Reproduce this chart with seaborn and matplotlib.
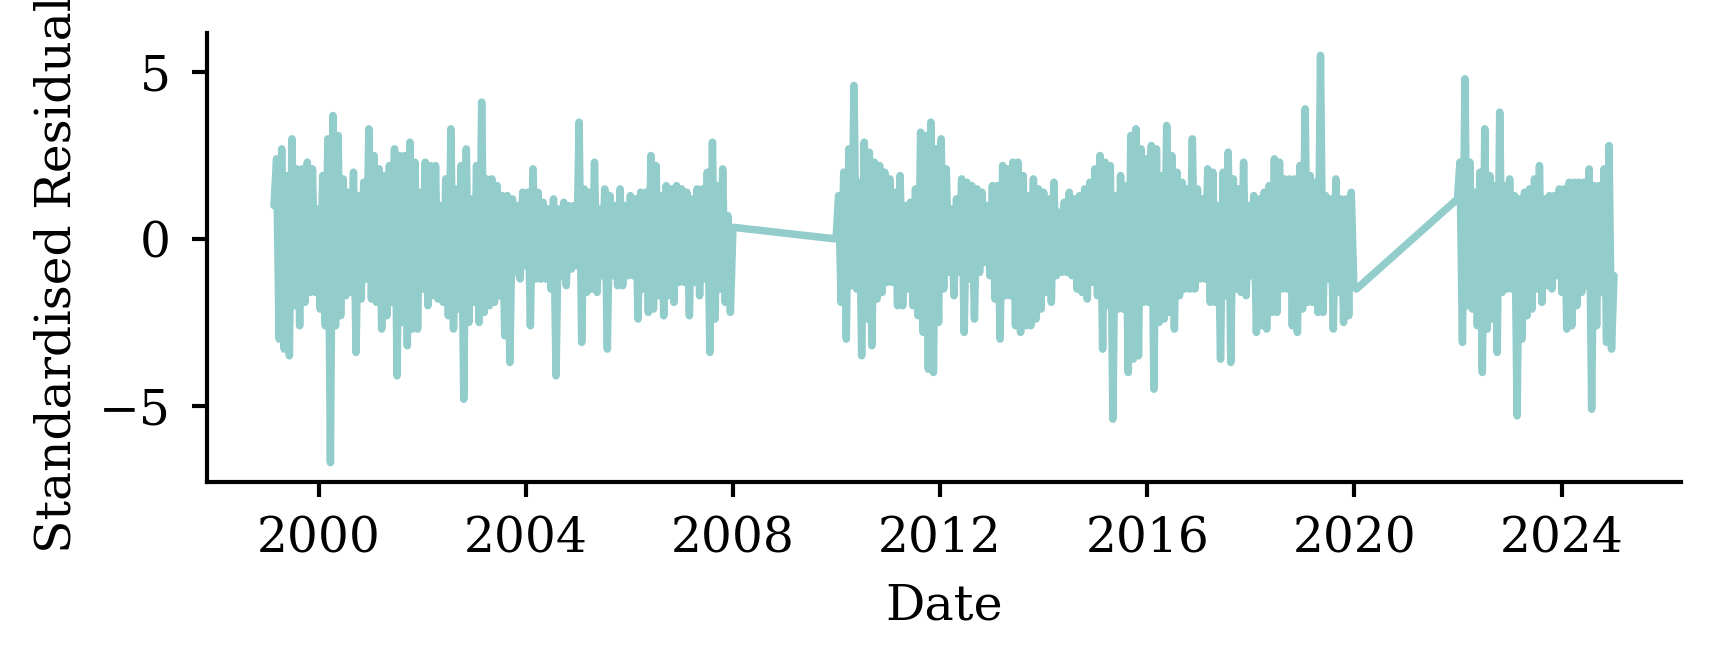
import matplotlib
matplotlib.use('Agg')
import matplotlib.pyplot as plt
import numpy as np
import pandas as pd
import seaborn as sns

# values: upper and lower swing per step of about 0.1 year
hi_1 = [2.4, 2.7, 1.9, 3.0, 2.1, 2.1, 2.3, 2.1, 0.9, 1.9, 3.0, 3.7, 3.1, 1.8, 1.4, 2.0, 1.3, 1.7, 3.3, 2.5,
        2.1, 1.9, 2.2, 2.7, 2.5, 2.5, 2.9, 2.3, 1.4, 2.3, 2.2, 2.2, 1.0, 1.8, 3.3, 1.5, 2.2, 2.7, 1.2, 2.2,
        4.1, 1.8, 1.8, 1.6, 1.3, 1.3, 1.2, 1.0, 1.4, 1.4, 2.1, 1.4, 1.1, 0.9, 1.2, 0.9, 1.1, 1.0, 1.0, 3.5,
        1.5, 1.4, 2.3, 0.9, 1.5, 1.3, 1.0, 1.5, 1.0, 1.3, 1.2, 1.4, 1.4, 2.5, 2.2, 1.3, 1.6, 1.5, 1.6, 1.5,
        1.4, 1.2, 1.5, 1.5, 2.0, 2.9, 1.6, 2.1, 0.7]
lo_1 = [-3.0, -3.3, -3.5, -2.0, -2.6, -1.9, -1.6, -1.6, -2.1, -2.6, -6.7, -2.6, -2.3, -1.7, -1.6, -3.4, -1.8, -1.2, -1.8, -1.9,
        -2.7, -2.3, -1.9, -4.1, -2.5, -3.2, -2.7, -2.7, -1.5, -2.0, -1.7, -1.8, -1.9, -2.3, -2.7, -2.1, -4.8, -2.5, -1.9, -2.5,
        -2.2, -2.0, -1.9, -1.7, -2.9, -3.7, -1.0, -1.2, -0.8, -2.6, -1.2, -1.2, -1.2, -1.5, -4.1, -1.1, -1.4, -0.9, -0.8, -3.1,
        -1.6, -1.5, -1.6, -1.1, -3.3, -1.1, -1.4, -1.4, -1.1, -1.1, -2.4, -1.5, -2.2, -2.1, -1.7, -2.3, -1.7, -1.9, -1.3, -1.3,
        -2.3, -1.3, -1.7, -1.2, -3.4, -2.4, -1.5, -1.9, -2.2]
hi_2 = [1.3, 2.0, 2.7, 4.6, 1.7, 2.9, 2.6, 2.3, 2.2, 2.0, 1.8, 1.4, 1.9, 1.0, 1.1, 1.5, 3.2, 3.1, 3.5, 2.7,
        3.0, 2.1, 0.9, 1.2, 1.8, 1.7, 1.6, 1.5, 1.4, 1.0, 1.6, 1.6, 2.2, 2.1, 2.3, 2.3, 1.9, 1.3, 1.8, 1.5,
        1.4, 1.2, 1.7, 0.8, 1.1, 1.4, 1.2, 1.3, 1.5, 1.7, 2.1, 2.5, 2.3, 2.2, 1.3, 1.9, 1.6, 3.1, 3.3, 2.7,
        2.4, 2.8, 2.7, 1.9, 3.4, 2.5, 2.0, 1.7, 1.5, 3.0, 1.5, 1.2, 2.1, 2.0, 1.0, 2.0, 2.6, 1.8, 1.5, 2.3,
        1.0, 1.3, 1.2, 1.4, 1.6, 2.4, 2.3, 1.8, 1.8, 1.8, 2.2, 3.9, 1.9, 1.7, 5.5, 1.3, 1.2, 1.8, 1.2, 1.2,
        1.4]
lo_2 = [-1.9, -3.0, -1.4, -1.5, -3.5, -2.4, -3.2, -1.8, -1.6, -1.3, -1.3, -2.0, -2.0, -1.5, -2.0, -2.3, -2.8, -3.9, -4.0, -2.5,
        -1.5, -1.0, -1.7, -1.0, -2.8, -1.2, -2.4, -1.0, -0.7, -1.1, -1.8, -3.0, -1.7, -1.7, -2.6, -2.8, -2.6, -2.6, -2.4, -2.1,
        -1.6, -1.9, -1.1, -1.0, -1.0, -1.1, -1.5, -1.6, -1.8, -1.3, -1.7, -3.3, -2.0, -5.4, -2.1, -2.1, -4.0, -3.6, -3.5, -1.9,
        -1.9, -4.5, -2.5, -2.4, -2.2, -2.7, -1.7, -1.5, -1.5, -1.5, -1.2, -1.2, -1.9, -1.9, -3.6, -1.7, -3.7, -1.5, -1.6, -1.7,
        -1.1, -2.8, -2.6, -2.7, -2.2, -2.2, -1.5, -1.5, -2.6, -2.8, -2.1, -1.9, -1.9, -2.2, -2.2, -1.2, -2.7, -1.6, -2.5, -2.3,
        -1.4]
hi_3 = [2.3, 4.8, 2.3, 1.4, 2.0, 3.3, 1.9, 1.6, 3.8, 1.6, 1.8, 1.3, 1.2, 1.4, 1.5, 1.8, 2.2, 1.2, 1.3, 1.3,
        1.5, 1.5, 1.7, 1.7, 1.7, 1.7, 2.1, 1.6, 1.6, 2.1, 2.8]
lo_3 = [-3.1, -2.0, -2.1, -2.6, -4.0, -2.7, -2.4, -3.4, -1.6, -1.5, -1.5, -5.3, -3.0, -2.3, -2.1, -1.5, -1.9, -1.4, -1.5, -1.1,
        -1.6, -2.7, -2.6, -2.0, -1.6, -1.4, -5.1, -2.6, -1.6, -3.1, -3.3]

# first and last reading of each block, these make the long straight lines over the gaps
periods = [('1999-02-20', '2008-01-01'), ('2009-12-28', '2020-01-15'), ('2021-12-28', '2025-01-05')]
first_vals = [1.0, 0.0, 1.2]
last_vals = [0.35, -1.5, -1.1]

y_ticks = [-5, 0, 5]
line_color = '#92cdcc'


def build_block(hi, lo, period, first, last):
    # high and low readings take turns, like the daily residuals do
    vals = [first]
    for h, l in zip(hi, lo):
        vals += [h, l]
    vals.append(last)
    dates = pd.date_range(period[0], period[1], periods=len(vals))
    return pd.DataFrame({'Date': dates, 'resid': vals})


blocks = [
    build_block(hi_1, lo_1, periods[0], first_vals[0], last_vals[0]),
    build_block(hi_2, lo_2, periods[1], first_vals[1], last_vals[1]),
    build_block(hi_3, lo_3, periods[2], first_vals[2], last_vals[2]),
]
df = pd.concat(blocks, ignore_index=True)

sns.set_theme(style='ticks', rc={'axes.linewidth': 1.0})
plt.rcParams['font.family'] = ['DejaVu Serif']
plt.rcParams['text.color'] = 'black'
plt.rcParams['axes.labelcolor'] = 'black'
plt.rcParams['xtick.labelcolor'] = 'black'
plt.rcParams['ytick.labelcolor'] = 'black'
plt.rcParams['axes.edgecolor'] = 'black'

fig, ax = plt.subplots(figsize=(1715 / 300, 665 / 300), dpi=300)
fig.subplots_adjust(left=207 / 1715, right=1681 / 1715, top=1 - 33 / 665, bottom=1 - 482 / 665)

sns.lineplot(data=df, x='Date', y='resid', estimator=None, sort=False, color=line_color, linewidth=1.8, ax=ax)

ax.set_yticks(y_ticks)
ax.set_ylim(-7.28, 6.17)
ax.set_ylabel('Standardised Residual', fontsize=11.7, labelpad=4.5, y=0.463)
ax.set_xlabel('Date', fontsize=11.8, labelpad=4.8)
ax.tick_params(labelsize=11.7, width=1.0, length=3.6, color='black')
ax.tick_params(axis='x', pad=4.5)
ax.tick_params(axis='y', pad=5)
sns.despine(ax=ax)

fig.savefig('out.png', dpi=300)
